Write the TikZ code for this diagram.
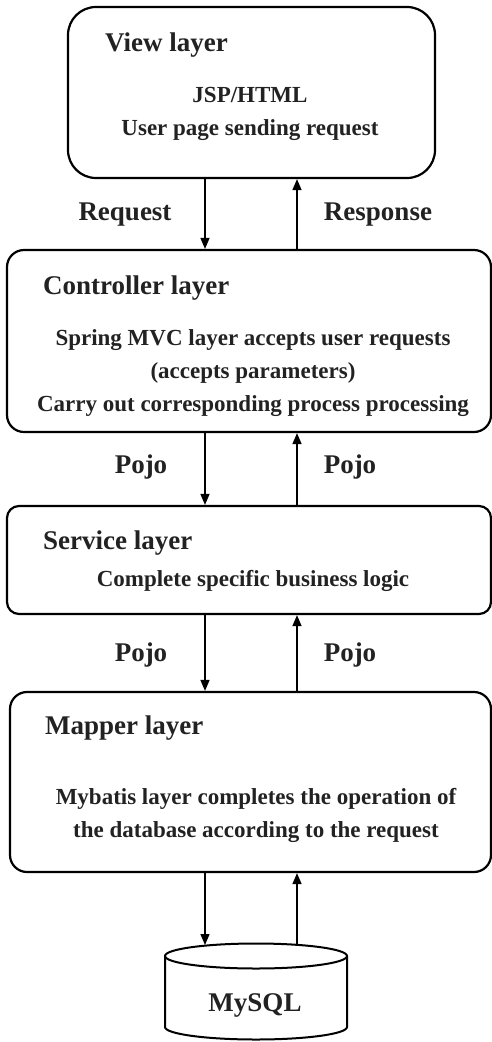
\documentclass[tikz,border=0pt]{standalone}
\usepackage{fontspec}
\setmainfont{Liberation Serif}
\usetikzlibrary{arrows.meta,positioning}

\definecolor{ink}{HTML}{222222}

\tikzset{
  layer/.style={draw, line width=2.2pt, inner sep=0pt},
  title/.style={anchor=west, inner sep=0pt, text=ink, font=\fontsize{27}{32}\selectfont\bfseries},
  body/.style={align=center, text=ink, font=\fontsize{23}{33}\selectfont\bfseries},
  lbl/.style={text=ink, font=\fontsize{27}{32}\selectfont\bfseries},
  flow/.style={line width=1.4pt, -{Triangle[length=11pt,width=9pt]}}
}

\begin{document}
\begin{tikzpicture}[x=1pt,y=1pt]
\useasboundingbox (0,0) rectangle (492,-1042);

\coordinate (down) at (205,0);
\coordinate (up) at (297,0);

\node[layer, rounded corners=28pt, minimum width=367pt, minimum height=171pt] (view) at (251.5,-92.5) {};
\node[title] (viewname) at (105,-45) {View layer};
\node[body] (viewtext) at (250,-114) {JSP/HTML\\User page sending request};

\node[layer, rounded corners=17pt, minimum width=484pt, minimum height=182pt] (ctrl) at (249,-341) {};
\node[title] (ctrlname) at (43,-288) {Controller layer};
\node[body] (ctrltext) at (253,-373) {Spring MVC layer accepts user requests\\(accepts parameters)\\Carry out corresponding process processing};

\node[layer, rounded corners=12pt, minimum width=484pt, minimum height=108pt] (service) at (249,-560) {};
\node[title] (servicename) at (43,-543) {Service layer};
\node[body] (servicetext) at (253,-581) {Complete specific business logic};

\node[layer, rounded corners=17pt, minimum width=481pt, minimum height=180pt] (mapper) at (250.5,-782) {};
\node[title] (mappername) at (45,-728) {Mapper layer};
\node[body] (mappertext) at (256,-815) {Mybatis layer completes the operation of\\the database according to the request};

% database
\draw[line width=2pt] (256,-956) ellipse[x radius=91, y radius=12.5];
\draw[line width=2pt] (165,-956) -- (165,-1027) arc[start angle=180, end angle=360, x radius=91, y radius=12.5] -- (347,-956);
\coordinate (dbtop) at (256,-945);
\node[lbl] (db) at (255,-1005) {MySQL};

% request / response
\draw[flow] (view.south -| down) -- (ctrl.north -| down);
\draw[flow] (ctrl.north -| up) -- (view.south -| up);
\node[lbl] (req) at (125,-215) {Request};
\node[lbl] (resp) at (378,-215) {Response};

\draw[flow] (ctrl.south -| down) -- (service.north -| down);
\draw[flow] (service.north -| up) -- (ctrl.south -| up);
\node[lbl] (pojo1) at (141,-467) {Pojo};
\node[lbl] (pojo2) at (350,-467) {Pojo};

\draw[flow] (service.south -| down) -- (mapper.north -| down);
\draw[flow] (mapper.north -| up) -- (service.south -| up);
\node[lbl] (pojo3) at (141,-655) {Pojo};
\node[lbl] (pojo4) at (350,-655) {Pojo};

\draw[flow] (mapper.south -| down) -- (dbtop -| down);
\draw[flow] (dbtop -| up) -- (mapper.south -| up);
\end{tikzpicture}
\end{document}
